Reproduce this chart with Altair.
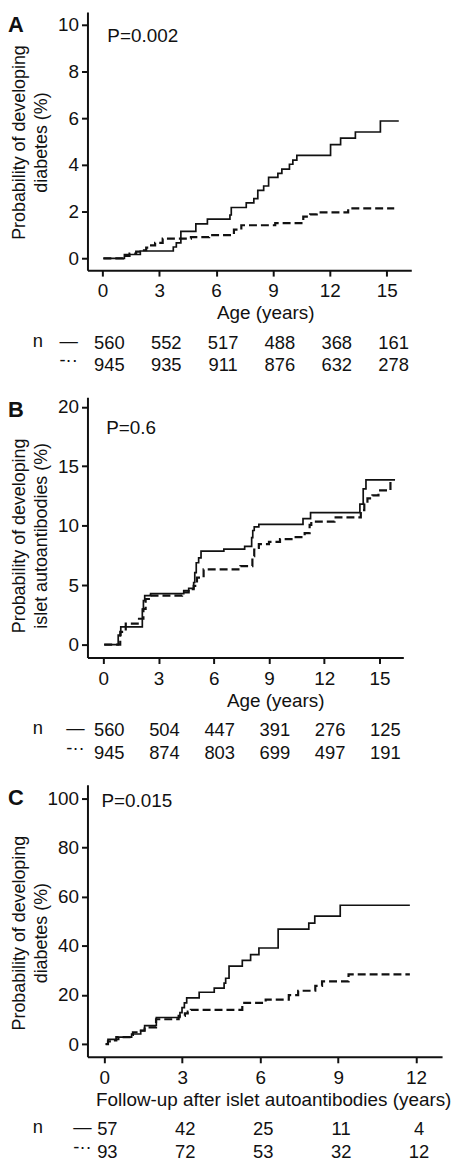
import altair as alt
import pandas as pd

FONT = "Liberation Sans"
INK = "#111111"

# ---------------- Panel A: diabetes by age ----------------
a_solid_t = [0.05, 1.16, 2.0, 3.74, 3.9, 4.14, 4.93, 5.54, 6.73, 6.8, 7.59, 7.99, 8.2, 8.51, 8.77, 9.26,
             9.47, 9.87, 10.05, 10.26, 12.04, 12.57, 13.35, 14.67, 15.64]
a_solid_p = [0, 0.17, 0.32, 0.49, 0.67, 1.16, 1.48, 1.68, 1.86, 2.18, 2.38, 2.56, 2.91, 3.1, 3.47, 3.64,
             3.82, 4.03, 4.21, 4.41, 4.87, 5.15, 5.41, 5.88, 5.88]
a_dash_t = [0.05, 1.08, 1.43, 1.78, 2.05, 2.31, 2.57, 2.78, 3.18, 4.67, 5.63, 6.94, 7.33, 9.12, 10.6,
            10.96, 11.31, 12.97, 15.4]
a_dash_p = [0, 0.11, 0.21, 0.29, 0.35, 0.46, 0.56, 0.67, 0.85, 0.91, 1.0, 1.23, 1.42, 1.51, 1.79,
            1.89, 1.97, 2.14, 2.14]
a_n_ticks = [0, 3, 6, 9, 12, 15]
a_n_solid = ["560", "552", "517", "488", "368", "161"]
a_n_dash = ["945", "935", "911", "876", "632", "278"]

# ---------------- Panel B: islet autoantibodies by age ----------------
b_solid_t = [0.05, 0.81, 0.95, 2.12, 2.18, 2.25, 2.57, 4.37, 4.64, 4.91, 4.97, 5.05, 5.18, 5.31, 6.55,
             7.68, 8.06, 8.12, 8.2, 8.45, 10.85, 11.26, 13.94, 14.12, 14.27, 15.85]
b_solid_p = [0, 0.8, 1.49, 3.0, 3.7, 4.12, 4.3, 4.54, 4.73, 5.23, 6.06, 6.89, 7.3, 7.86, 8.03,
             8.27, 9.0, 9.6, 9.9, 10.12, 10.6, 11.1, 11.81, 13.1, 13.86, 13.86]
b_dash_t = [0.05, 0.92, 1.22, 1.94, 2.18, 2.3, 2.57, 4.28, 4.64, 4.91, 5.09, 5.45, 7.45, 8.1, 8.2,
            8.29, 8.45, 9.0, 9.6, 10.3, 10.94, 11.21, 11.3, 12.56, 13.99, 14.18, 14.35, 14.62, 14.95,
            15.6, 15.62]
b_dash_p = [0, 1.08, 1.77, 2.18, 3.0, 3.84, 4.12, 4.4, 4.67, 4.95, 5.64, 6.33, 6.61, 7.44, 8.0,
            8.13, 8.45, 8.65, 8.88, 9.05, 9.38, 10.07, 10.35, 10.7, 11.31, 11.87, 12.3, 12.56, 12.97,
            13.75, 13.75]
b_n_ticks = [0, 3, 6, 9, 12, 15]
b_n_solid = ["560", "504", "447", "391", "276", "125"]
b_n_dash = ["945", "874", "803", "699", "497", "191"]

# ---------------- Panel C: diabetes after autoantibodies ----------------
c_solid_t = [0.05, 0.14, 0.55, 1.05, 1.4, 1.55, 2.0, 2.91, 2.99, 3.08, 3.17, 3.65, 4.23, 4.61, 4.67,
             4.8, 5.31, 5.63, 5.95, 6.69, 7.87, 8.1, 9.08, 11.76]
c_solid_p = [0, 1.9, 2.8, 4.1, 5.5, 7.5, 10.8, 12.8, 14.8, 16.8, 18.8, 21.1, 22.8, 24.8, 26.8,
             31.7, 34.1, 36.4, 39.1, 46.8, 49.2, 52.1, 56.5, 56.5]
c_dash_t = [0.05, 0.14, 0.3, 0.46, 1.03, 1.1, 1.35, 1.55, 1.99, 2.86, 3.1, 3.21, 3.33, 5.31, 6.21,
            7.1, 7.46, 8.12, 8.38, 9.4, 11.76]
c_dash_p = [0, 1.1, 1.5, 2.8, 3.7, 4.8, 5.5, 6.8, 10.1, 11.5, 12.5, 13.2, 13.9, 16.8, 18.1,
            19.9, 21.7, 23.7, 25.5, 28.4, 28.4]
c_n_ticks = [0, 3, 6, 9, 12]
c_n_solid = ["57", "42", "25", "11", "4"]
c_n_dash = ["93", "72", "53", "32", "12"]


def panel(letter, pval, p_pos, sol_t, sol_p, das_t, das_p, x_ticks, x_dom, y_ticks, y_dom,
          width, height, x_title, y_title, x_title_x, y_title_y, n_ticks, n_solid, n_dash,
          n_dx, sym_x):
    x_enc = alt.X(
        "t:Q",
        scale=alt.Scale(domain=x_dom, nice=False, zero=False),
        axis=alt.Axis(values=x_ticks, title=x_title, grid=False, domainColor=INK, domainWidth=2,
                      tickColor=INK, tickWidth=2, tickSize=6, labelFont=FONT, labelFontSize=19,
                      labelColor=INK, labelPadding=6, labelFlush=False, labelOverlap=False,
                      titleFont=FONT, titleFontSize=19, titleFontWeight="normal", titleColor=INK,
                      titlePadding=3, titleX=x_title_x, titleAlign="center"),
    )
    y_enc = alt.Y(
        "p:Q",
        scale=alt.Scale(domain=y_dom, nice=False, zero=False),
        axis=alt.Axis(values=y_ticks, title=y_title, grid=False, domainColor=INK, domainWidth=2,
                      tickColor=INK, tickWidth=2, tickSize=6, labelFont=FONT, labelFontSize=19,
                      labelColor=INK, labelPadding=3, labelFlush=False, labelOverlap=False,
                      titleFont=FONT, titleFontSize=18, titleFontWeight="normal", titleColor=INK,
                      titleAngle=270, titleAlign="center", titleBaseline="bottom",
                      titleLineHeight=22, titleX=-59, titleY=y_title_y),
    )
    solid = alt.Chart(pd.DataFrame({"t": sol_t, "p": sol_p})).mark_line(
        interpolate="step-after", color=INK, strokeWidth=1.7
    ).encode(x=x_enc, y=y_enc)
    dashed = alt.Chart(pd.DataFrame({"t": das_t, "p": das_p})).mark_line(
        interpolate="step-after", color=INK, strokeWidth=2.2, strokeDash=[8, 4]
    ).encode(x=x_enc, y=y_enc)
    ptxt = alt.Chart(pd.DataFrame({"t": [p_pos[0]], "p": [p_pos[1]], "label": [pval]})).mark_text(
        font=FONT, fontSize=19, align="left", baseline="middle", color=INK
    ).encode(x=x_enc, y=y_enc, text="label:N")
    let = alt.Chart(pd.DataFrame({"label": [letter]})).mark_text(
        font=FONT, fontSize=22, fontWeight="bold", align="left", baseline="top", color=INK
    ).encode(x=alt.value(-80), y=alt.value(3), text="label:N")
    row1 = alt.Chart(pd.DataFrame({"t": n_ticks, "label": n_solid})).mark_text(
        font=FONT, fontSize=18.5, align="center", baseline="middle", color=INK, dx=n_dx
    ).encode(x=x_enc, y=alt.value(height + 73), text="label:N")
    row2 = alt.Chart(pd.DataFrame({"t": n_ticks, "label": n_dash})).mark_text(
        font=FONT, fontSize=18.5, align="center", baseline="middle", color=INK, dx=n_dx
    ).encode(x=x_enc, y=alt.value(height + 96), text="label:N")
    nlab = alt.Chart(pd.DataFrame({"label": ["n"]})).mark_text(
        font=FONT, fontSize=18.5, align="center", baseline="middle", color=INK
    ).encode(x=alt.value(-50), y=alt.value(height + 71), text="label:N")
    sym1 = alt.Chart(pd.DataFrame({"label": ["\u2014"]})).mark_text(
        font=FONT, fontSize=18.5, align="center", baseline="middle", color=INK
    ).encode(x=alt.value(sym_x), y=alt.value(height + 71), text="label:N")
    sym2 = alt.Chart(pd.DataFrame({"label": ["-\u00b7\u00b7"]})).mark_text(
        font=FONT, fontSize=18.5, align="center", baseline="middle", color=INK
    ).encode(x=alt.value(sym_x), y=alt.value(height + 91), text="label:N")
    return alt.layer(solid, dashed, ptxt, let, row1, row2, nlab, sym1, sym2).properties(
        width=width, height=height
    )


pa = panel("A", "P=0.002", (0.26, 9.5), a_solid_t, a_solid_p, a_dash_t, a_dash_p,
           [0, 3, 6, 9, 12, 15], [-0.79, 16.3], [0, 2, 4, 6, 8, 10], [-0.5, 10.55],
           326, 260, "Age (years)", ["Probability of developing", "diabetes (%)"], 179, 131,
           a_n_ticks, a_n_solid, a_n_dash, 7, -19)
pb = panel("B", "P=0.6", (0.16, 18.2), b_solid_t, b_solid_p, b_dash_t, b_dash_p,
           [0, 3, 6, 9, 12, 15], [-0.86, 16.3], [0, 5, 10, 15, 20], [-1.08, 20.8],
           318, 262, "Age (years)", ["Probability of developing", "islet autoantibodies (%)"], 189, 139,
           b_n_ticks, b_n_solid, b_n_dash, 6, -12)
pc = panel("C", "P=0.015", (-0.11, 98.8), c_solid_t, c_solid_p, c_dash_t, c_dash_p,
           [0, 3, 6, 9, 12], [-0.65, 13.0], [0, 20, 40, 60, 80, 100], [-5.2, 105.6],
           357, 274, "Follow-up after islet autoantibodies (years)",
           ["Probability of  developing", "diabetes (%)"], 187, 149,
           c_n_ticks, c_n_solid, c_n_dash, 3, -5)

chart = alt.vconcat(pa, pb, pc, spacing=22).properties(padding=0).configure_view(stroke=None)
chart.save("out.html", embed_options={"renderer": "svg", "actions": False})
